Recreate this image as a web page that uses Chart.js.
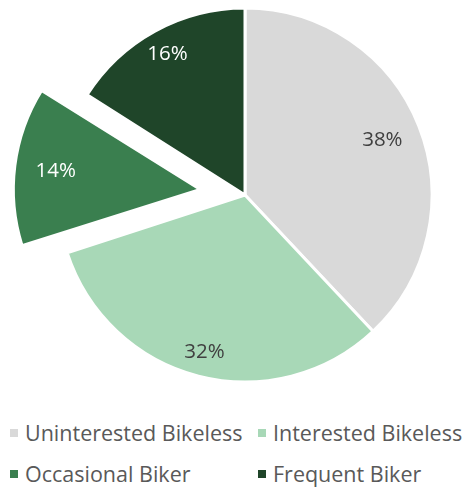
<!DOCTYPE html>
<html>
<head>
<meta charset="utf-8">
<script src="https://cdn.jsdelivr.net/npm/chart.js@4"></script>
<style>
  body { margin: 0; background: #fff; font-family: "Open Sans", sans-serif; }
  #wrap { position: relative; width: 465px; height: 400px; }
  #legend { position: absolute; left: 10px; top: 419px; display: grid; grid-template-columns: 248px auto; row-gap: 13px; }
  .item { font-size: 21.5px; color: #595959; line-height: 28px; white-space: nowrap; }
  .sw { display: inline-block; width: 8px; height: 8px; margin-right: 7px; vertical-align: middle; position: relative; top: -2px; }
</style>
</head>
<body>
<div id="wrap"><canvas id="pie"></canvas></div>
<div id="legend"></div>
<script>
var labels = ['Uninterested Bikeless', 'Interested Bikeless', 'Occasional Biker', 'Frequent Biker'];
var shares = [38, 32, 14, 16];
var colors = ['#d9d9d9', '#a8d8b7', '#3a7f4f', '#1f4529'];
var labelColors = ['#404040', '#404040', '#ffffff', '#ffffff'];
var labelDist = [0.79, 0.87, 0.78, 0.86];
var explode = [0, 0, 180, 0];

// keep the exploded slice the same size as the others
var keepRadius = {
    id: 'keepRadius',
    afterDatasetsUpdate: function (chart) {
        chart.getDatasetMeta(0).data.forEach(function (arc) {
            var off = (arc.options.offset || 0) / 4;
            if (off) {
                var fix = 1 - Math.sin(Math.min(Math.PI, arc.circumference));
                arc.outerRadius -= off * fix;
            }
        });
    }
};

var pctLabels = {
    id: 'pctLabels',
    afterDatasetsDraw: function (chart) {
        var ctx = chart.ctx;
        var meta = chart.getDatasetMeta(0);
        ctx.save();
        ctx.font = '20.5px "Open Sans"';
        ctx.textAlign = 'center';
        ctx.textBaseline = 'middle';
        meta.data.forEach(function (arc, i) {
            var mid = (arc.startAngle + arc.endAngle) / 2;
            var shift = (arc.options.offset || 0) / 4;
            var r = chart.options.radius * labelDist[i];
            var x = arc.x + Math.cos(mid) * (r + shift);
            var y = arc.y + Math.sin(mid) * (r + shift);
            ctx.fillStyle = labelColors[i];
            ctx.fillText(shares[i] + '%', x, y);
        });
        ctx.restore();
    }
};

var ctx = document.getElementById('pie').getContext('2d');
var pie = new Chart(ctx, {
    type: 'pie',
    data: {
        labels: labels,
        datasets: [{
            data: shares,
            backgroundColor: colors,
            borderColor: '#ffffff',
            borderWidth: 3,
            offset: explode
        }]
    },
    options: {
        responsive: true,
        maintainAspectRatio: false,
        animation: false,
        radius: 187,
        layout: {
            padding: { left: 25, top: 0, right: 0, bottom: 10 }
        },
        plugins: {
            legend: { display: false },
            tooltip: { enabled: false }
        }
    },
    plugins: [keepRadius, pctLabels]
});

var legend = document.getElementById('legend');
labels.forEach(function (name, i) {
    var div = document.createElement('div');
    div.className = 'item';
    div.innerHTML = '<span class="sw" style="background:' + colors[i] + '"></span>' + name;
    legend.appendChild(div);
});
</script>
</body>
</html>
